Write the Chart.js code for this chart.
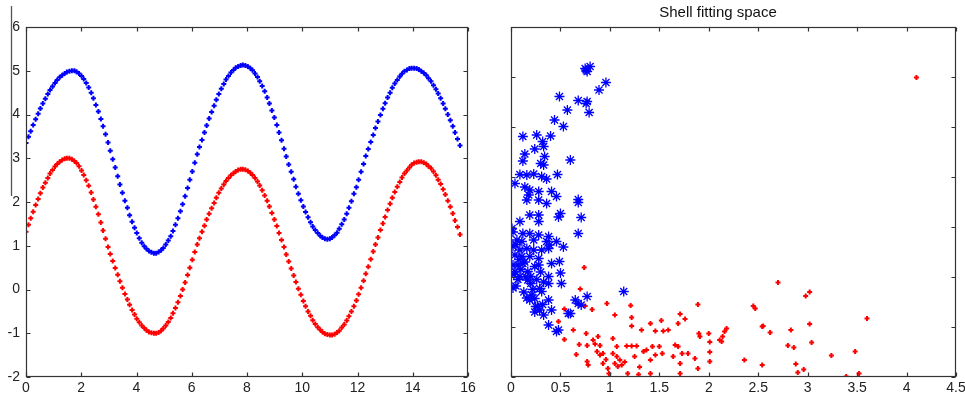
<!DOCTYPE html>
<html>
<head>
<meta charset="utf-8">
<script src="https://cdn.jsdelivr.net/npm/chart.js@4.4.0/dist/chart.umd.min.js"></script>
<style>
html, body { margin: 0; padding: 0; background: #fff; }
#wrap { position: relative; width: 965px; height: 399px; overflow: hidden; }
.box { position: absolute; top: 0; }
</style>
</head>
<body>
<div id="wrap">
  <div class="box" style="left:0;width:480px;height:399px"><canvas id="waves" width="480" height="399"></canvas></div>
  <div class="box" style="left:480px;width:485px;height:399px"><canvas id="shell" width="485" height="399"></canvas></div>
</div>
<script>
// left panel: sample positions (5 degree steps) and the two curves
var waveX = [0.00,0.09,0.17,0.26,0.35,0.44,0.52,0.61,0.70,0.79,0.87,0.96,1.05,1.13,1.22,1.31,1.40,1.48,1.57,1.66,
  1.75,1.83,1.92,2.01,2.09,2.18,2.27,2.36,2.44,2.53,2.62,2.71,2.79,2.88,2.97,3.05,3.14,3.23,3.32,3.40,
  3.49,3.58,3.67,3.75,3.84,3.93,4.01,4.10,4.19,4.28,4.36,4.45,4.54,4.63,4.71,4.80,4.89,4.97,5.06,5.15,
  5.24,5.32,5.41,5.50,5.59,5.67,5.76,5.85,5.93,6.02,6.11,6.20,6.28,6.37,6.46,6.54,6.63,6.72,6.81,6.89,
  6.98,7.07,7.16,7.24,7.33,7.42,7.51,7.59,7.68,7.77,7.85,7.94,8.03,8.12,8.20,8.29,8.38,8.46,8.55,8.64,
  8.73,8.81,8.90,8.99,9.08,9.16,9.25,9.34,9.42,9.51,9.60,9.69,9.77,9.86,9.95,10.04,10.12,10.21,10.30,10.38,
  10.47,10.56,10.65,10.73,10.82,10.91,11.00,11.08,11.17,11.26,11.34,11.43,11.52,11.61,11.69,11.78,11.87,11.96,12.04,12.13,
  12.22,12.30,12.39,12.48,12.57,12.65,12.74,12.83,12.92,13.00,13.09,13.18,13.26,13.35,13.44,13.53,13.61,13.70,13.79,13.88,
  13.96,14.05,14.14,14.22,14.31,14.40,14.49,14.57,14.66,14.75,14.84,14.92,15.01,15.10,15.18,15.27,15.36,15.45,15.53,15.62,
  15.71];
var waveBlue = [3.35,3.49,3.62,3.76,3.89,4.02,4.14,4.25,4.36,4.47,4.56,4.64,4.72,4.79,4.85,4.90,4.94,4.97,4.99,5.00,
  5.00,4.98,4.94,4.88,4.81,4.72,4.62,4.50,4.37,4.22,4.07,3.90,3.73,3.55,3.36,3.17,
  2.98,2.79,2.59,2.40,2.21,2.03,1.87,1.70,1.55,1.41,1.29,1.17,1.07,0.99,0.93,0.88,0.85,0.83,
  0.83,0.86,0.90,0.95,1.03,1.12,1.22,1.34,1.48,1.63,1.79,1.95,2.13,2.32,2.51,2.70,2.90,
  3.09,3.26,3.42,3.59,3.75,3.91,4.06,4.20,4.34,4.47,4.59,4.70,4.80,4.88,4.96,5.02,5.07,5.10,5.12,5.13,
  5.12,5.10,5.06,5.01,4.94,4.86,4.76,4.65,4.53,4.39,4.25,4.09,3.93,3.76,3.59,3.41,3.22,3.04,
  2.86,2.69,2.52,2.35,2.19,2.04,1.90,1.77,1.65,1.54,1.44,1.36,1.29,1.23,1.19,1.16,
  1.15,1.16,1.19,1.24,1.30,1.39,1.49,1.60,1.73,1.87,2.02,2.19,2.34,2.51,2.69,2.87,
  3.05,3.21,3.37,3.53,3.69,3.84,3.99,4.13,4.26,4.39,4.50,4.61,4.71,4.79,4.87,4.93,4.99,5.02,5.05,5.06,
  5.06,5.05,5.03,4.99,4.95,4.90,4.83,4.76,4.67,4.58,4.48,4.37,4.25,4.13,4.00,3.87,3.73,3.59,3.44,3.29];
var waveRed = [1.32,1.48,1.63,1.78,1.93,2.07,2.20,2.33,2.44,2.55,2.65,2.73,2.81,2.87,2.92,2.96,2.99,3.00,
  3.00,2.98,2.94,2.89,2.82,2.72,2.62,2.50,2.37,2.22,2.06,1.89,1.72,1.53,1.35,1.16,
  0.97,0.81,0.65,0.49,0.34,0.19,0.04,-0.10,-0.23,-0.35,-0.47,-0.57,-0.67,-0.75,-0.82,-0.88,-0.93,-0.97,-0.99,-1.00,
  -1.00,-0.98,-0.94,-0.89,-0.82,-0.74,-0.65,-0.54,-0.42,-0.29,-0.15,0.00,0.16,0.33,0.50,0.68,0.86,
  1.03,1.17,1.32,1.46,1.60,1.73,1.86,1.98,2.10,2.21,2.31,2.40,2.48,2.55,2.61,2.66,2.70,2.73,2.75,
  2.75,2.74,2.71,2.67,2.62,2.55,2.47,2.38,2.27,2.15,2.03,1.90,1.75,1.60,1.45,1.29,1.13,
  0.97,0.80,0.64,0.48,0.32,0.17,0.02,-0.12,-0.26,-0.38,-0.50,-0.60,-0.70,-0.79,-0.86,-0.92,-0.97,-1.01,-1.03,-1.04,
  -1.04,-1.02,-0.98,-0.94,-0.87,-0.80,-0.71,-0.61,-0.50,-0.38,-0.25,-0.11,0.04,0.20,0.36,0.52,0.69,0.87,
  1.03,1.19,1.36,1.51,1.66,1.82,1.96,2.10,2.23,2.35,2.46,2.56,2.65,2.72,2.79,2.85,2.89,2.91,2.92,
  2.92,2.90,2.87,2.82,2.77,2.70,2.61,2.51,2.41,2.29,2.17,2.03,1.89,1.74,1.58,1.43,1.26];

// right panel: shell fitting space scatter
var shellBlueX = [0.75,0.77,0.80,0.76,0.96,0.89,0.49,0.68,0.77,0.76,0.57,0.79,0.44,0.53,
  0.12,0.26,0.40,0.32,0.33,0.24,0.14,0.34,0.12,0.30,0.33,0.60,
  0.09,0.16,0.23,0.31,0.36,0.47,0.04,0.14,0.19,0.18,0.28,0.41,0.46,0.68,
  0.68,0.71,0.68,0.36,0.28,0.16,0.19,0.28,0.50,0.48,0.09,0.28,0.01,
  0.12,0.19,0.28,0.38,0.06,0.11,0.23,0.36,0.39,0.46,0.53,
  0.02,0.09,0.16,0.23,0.31,0.38,0.04,0.11,0.19,0.28,
  0.41,0.49,0.02,0.07,0.12,0.24,0.28,
  0.04,0.09,0.17,0.20,0.38,0.50,0.38,0.51,0.02,0.05,0.17,0.20,
  0.29,0.31,0.19,0.24,0.21,0.25,0.29,0.27,0.38,0.41,0.33,0.38,0.46,0.48,0.58,0.60,0.65,0.68,0.71,0.77,1.14,
  0.02,0.05,0.08,0.03,0.10,0.14,0.07,0.15,0.13,0.22,0.26,0.33,0.30,0.16,0.24,0.32];
var shellBlueY = [6.17,6.11,6.21,6.14,5.89,5.74,5.61,5.53,5.51,5.47,5.34,5.29,5.14,5.01,
  4.81,4.84,4.82,4.71,4.61,4.56,4.46,4.41,4.32,4.27,4.24,4.34,
  4.05,4.04,4.06,4.01,3.96,4.05,3.87,3.80,3.74,3.64,3.71,3.71,3.61,3.55,
  3.49,3.19,2.87,3.47,3.54,3.54,3.24,3.24,3.27,3.20,3.11,3.11,2.97,
  2.87,2.87,2.84,2.81,2.74,2.71,2.74,2.71,2.64,2.71,2.60,
  2.61,2.54,2.57,2.54,2.54,2.57,2.44,2.41,2.41,2.37,
  2.27,2.31,2.24,2.24,2.27,2.21,2.24,
  2.11,2.01,2.11,2.01,2.01,2.08,1.87,1.87,1.78,1.82,1.94,1.87,
  1.77,1.71,1.54,1.57,1.64,1.41,1.34,1.41,1.54,1.34,1.24,1.04,0.91,0.94,1.27,1.27,1.54,1.47,1.44,1.61,1.71,
  2.90,2.65,2.35,2.05,2.15,2.30,1.95,2.00,1.70,1.75,1.95,1.90,2.10,1.58,1.30,1.45];
var shellRedX = [0.74,0.70,0.54,0.75,0.82,0.97,1.21,1.05,1.22,1.22,0.48,0.63,0.54,0.76,0.69,0.77,0.66,0.83,0.88,0.85,
  0.90,0.77,0.78,0.87,0.90,0.93,0.96,0.93,0.98,0.99,1.03,1.07,1.03,1.07,1.10,1.05,1.08,1.12,1.15,1.17,
  1.22,1.27,1.25,1.18,1.29,1.30,1.32,1.34,1.37,1.43,1.41,1.46,1.41,1.41,1.52,1.46,1.54,1.50,1.53,1.59,
  1.71,1.69,1.76,1.66,1.69,1.73,1.71,1.64,1.71,1.79,1.89,1.90,1.91,1.86,1.89,2.00,2.01,2.01,2.01,2.11,
  2.14,2.18,2.16,2.13,2.36,2.45,2.47,2.54,2.55,2.62,2.54,2.70,2.80,2.86,2.83,2.88,2.90,2.96,2.98,3.02,
  3.02,3.04,3.24,3.39,3.48,3.52,3.60,4.10];
var shellRedY = [2.19,1.76,1.36,1.42,1.35,1.47,1.43,1.24,1.19,1.02,1.11,0.94,0.75,0.87,0.65,0.63,0.45,0.74,0.81,0.66,
  0.63,0.31,0.24,0.51,0.44,0.47,0.35,0.27,0.17,0.07,0.77,0.61,0.47,0.41,0.34,0.27,0.21,0.24,0.30,0.62,
  0.62,0.62,0.41,0.07,0.05,0.20,0.94,0.51,0.54,0.61,0.34,0.44,1.07,0.07,1.13,0.92,0.92,0.61,0.47,0.94,
  1.26,1.07,1.16,0.64,0.61,0.47,0.27,0.41,0.07,0.47,1.45,0.87,0.81,0.37,0.17,0.87,0.70,0.50,0.31,0.74,
  0.81,0.97,0.91,0.71,0.34,1.42,1.37,1.01,1.02,0.89,0.24,1.89,0.63,0.59,0.94,0.26,0.09,0.15,1.62,1.70,
  1.06,0.69,0.43,0.01,0.51,0.07,1.17,5.99];

var waveTicksX = [0, 2, 4, 6, 8, 10, 12, 14, 16];
var shellTicksX = [0, 0.5, 1, 1.5, 2, 2.5, 3, 3.5, 4, 4.5];

function pairs(xs, ys) {
    return xs.map(function (x, i) { return { x: x, y: ys[i] }; });
}

// plain number labels, no forced decimals
function plainLabel(v) {
    return String(v);
}

// matlab style box with ticks pointing inwards on all four sides
var boxTicks = {
    id: 'boxTicks',
    afterDraw: function (chart) {
        var ctx = chart.ctx, a = chart.chartArea;
        var sx = chart.scales.x, sy = chart.scales.y;
        var l = Math.round(a.left) + 0.5, r = Math.round(a.right) - 0.5;
        var t = Math.round(a.top) + 0.5, b = Math.round(a.bottom) - 0.5;
        ctx.save();
        ctx.strokeStyle = '#333';
        ctx.lineWidth = 1.2;
        ctx.strokeRect(l, t, r - l, b - t);
        ctx.beginPath();
        sx.ticks.forEach(function (tk) {
            var p = Math.round(sx.getPixelForValue(tk.value)) + 0.5;
            ctx.moveTo(p, b); ctx.lineTo(p, b - 4);
            ctx.moveTo(p, t); ctx.lineTo(p, t + 4);
        });
        sy.ticks.forEach(function (tk) {
            var p = Math.round(sy.getPixelForValue(tk.value)) + 0.5;
            ctx.moveTo(l, p); ctx.lineTo(l + 4, p);
            ctx.moveTo(r, p); ctx.lineTo(r - 4, p);
        });
        ctx.stroke();
        ctx.restore();
    }
};

// stray vertical rule left of the first panel
var strayRule = {
    id: 'strayRule',
    afterDraw: function (chart) {
        var ctx = chart.ctx;
        ctx.save();
        ctx.strokeStyle = '#555';
        ctx.lineWidth = 1.3;
        ctx.beginPath();
        ctx.moveTo(11.5, 6);
        ctx.lineTo(11.5, 196);
        ctx.stroke();
        ctx.restore();
    }
};

var tickFont = { family: 'Liberation Sans, Arial, sans-serif', size: 14 };

var waves = new Chart(document.getElementById('waves'), {
    type: 'scatter',
    data: {
        datasets: [
            {
                label: 'upper',
                data: pairs(waveX, waveBlue),
                pointStyle: 'cross',
                radius: 2.5,
                borderWidth: 2,
                borderColor: '#0000ff',
                backgroundColor: '#0000ff'
            },
            {
                label: 'lower',
                data: pairs(waveX, waveRed),
                pointStyle: 'cross',
                radius: 2.5,
                borderWidth: 2,
                borderColor: '#ff0000',
                backgroundColor: '#ff0000'
            }
        ]
    },
    options: {
        responsive: false,
        animation: false,
        devicePixelRatio: 1,
        layout: { padding: { top: 27, right: 12, left: 0, bottom: 0 } },
        plugins: { legend: { display: false }, tooltip: { enabled: false }, title: { display: false } },
        scales: {
            x: {
                type: 'linear', min: 0, max: 16,
                afterBuildTicks: function (s) { s.ticks = waveTicksX.map(function (v) { return { value: v }; }); },
                ticks: { font: tickFont, color: '#222', padding: 3, maxRotation: 0, callback: plainLabel },
                grid: { display: false, drawTicks: false },
                border: { display: false },
                afterFit: function (s) { s.height = 22; s.paddingLeft = 0; s.paddingRight = 0; }
            },
            y: {
                min: -2, max: 6,
                ticks: { stepSize: 1, font: tickFont, color: '#222', padding: 6, callback: plainLabel },
                grid: { display: false, drawTicks: false },
                border: { display: false },
                afterFit: function (s) { s.width = 26; s.paddingTop = 0; s.paddingBottom = 0; }
            }
        }
    },
    plugins: [boxTicks, strayRule]
});

var shell = new Chart(document.getElementById('shell'), {
    type: 'scatter',
    data: {
        datasets: [
            {
                label: 'inner',
                data: pairs(shellBlueX, shellBlueY),
                pointStyle: 'star',
                radius: 5,
                borderWidth: 1.3,
                borderColor: '#0000ff',
                backgroundColor: '#0000ff'
            },
            {
                label: 'outer',
                data: pairs(shellRedX, shellRedY),
                pointStyle: 'cross',
                radius: 2.5,
                borderWidth: 2,
                borderColor: '#ff0000',
                backgroundColor: '#ff0000'
            }
        ]
    },
    options: {
        responsive: false,
        animation: false,
        devicePixelRatio: 1,
        layout: { padding: { top: 0, right: 9, left: 0, bottom: 0 } },
        plugins: {
            legend: { display: false },
            tooltip: { enabled: false },
            title: {
                display: true,
                text: 'Shell fitting space',
                color: '#111',
                font: { family: 'Liberation Sans, Arial, sans-serif', size: 15, weight: 'normal' },
                padding: { top: 4, bottom: 5 }
            }
        },
        scales: {
            x: {
                type: 'linear', min: 0, max: 4.5,
                afterBuildTicks: function (s) { s.ticks = shellTicksX.map(function (v) { return { value: v }; }); },
                ticks: { font: tickFont, color: '#222', padding: 3, maxRotation: 0, callback: plainLabel },
                grid: { display: false, drawTicks: false },
                border: { display: false },
                afterFit: function (s) { s.height = 22; s.paddingLeft = 0; s.paddingRight = 0; }
            },
            y: {
                min: 0, max: 7,
                ticks: { stepSize: 1, display: false },
                grid: { display: false, drawTicks: false },
                border: { display: false },
                afterFit: function (s) { s.width = 31; s.paddingTop = 0; s.paddingBottom = 0; }
            }
        }
    },
    plugins: [boxTicks]
});
</script>
</body>
</html>
